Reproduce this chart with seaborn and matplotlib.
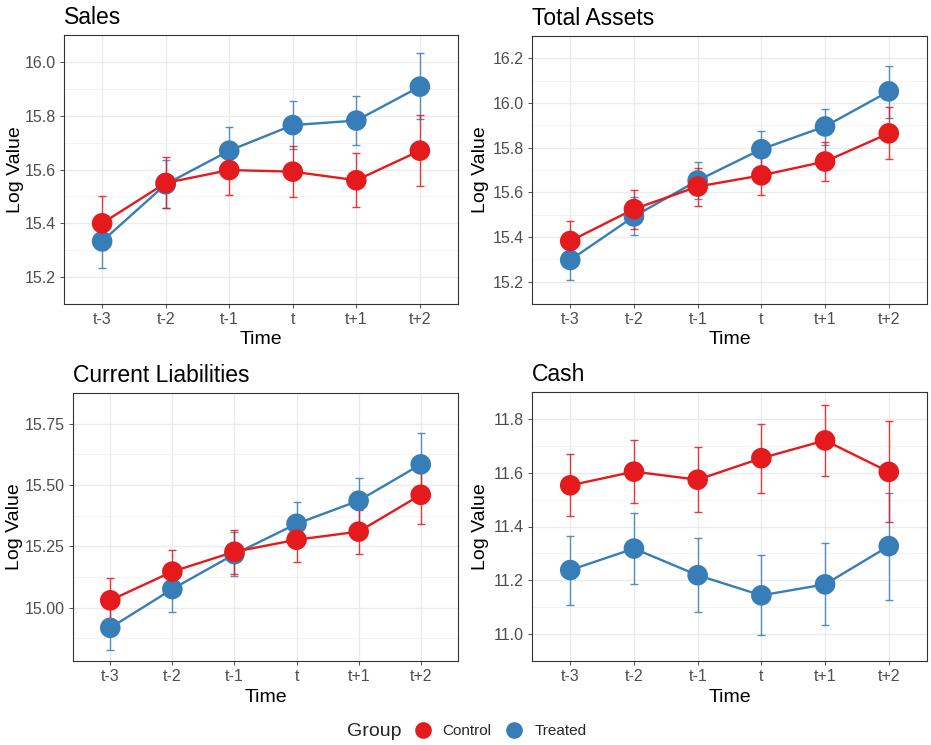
import numpy as np
import pandas as pd
import matplotlib
matplotlib.use("Agg")
import matplotlib.pyplot as plt
from matplotlib.lines import Line2D
import seaborn as sns

times = ["t-3", "t-2", "t-1", "t", "t+1", "t+2"]
groups = ["Control", "Treated"]
colors = {"Control": "#E41A1C", "Treated": "#377EB8"}

# Sales
sales_ctrl = [15.400, 15.550, 15.598, 15.592, 15.560, 15.670]
sales_ctrl_lo = [15.300, 15.457, 15.505, 15.498, 15.460, 15.538]
sales_ctrl_hi = [15.500, 15.645, 15.690, 15.688, 15.660, 15.802]
sales_trt = [15.333, 15.545, 15.670, 15.765, 15.782, 15.908]
sales_trt_lo = [15.235, 15.457, 15.585, 15.675, 15.690, 15.787]
sales_trt_hi = [15.430, 15.635, 15.757, 15.853, 15.873, 16.032]

# Total Assets
ta_ctrl = [15.382, 15.525, 15.626, 15.676, 15.738, 15.864]
ta_ctrl_lo = [15.290, 15.437, 15.541, 15.590, 15.650, 15.748]
ta_ctrl_hi = [15.473, 15.612, 15.711, 15.762, 15.826, 15.980]
ta_trt = [15.297, 15.492, 15.653, 15.793, 15.895, 16.052]
ta_trt_lo = [15.207, 15.408, 15.571, 15.710, 15.812, 15.935]
ta_trt_hi = [15.387, 15.578, 15.734, 15.875, 15.975, 16.167]

# Current Liabilities
cl_ctrl = [15.030, 15.147, 15.228, 15.277, 15.310, 15.460]
cl_ctrl_lo = [14.937, 15.057, 15.139, 15.185, 15.220, 15.340]
cl_ctrl_hi = [15.123, 15.237, 15.317, 15.369, 15.400, 15.580]
cl_trt = [14.918, 15.076, 15.218, 15.342, 15.436, 15.584]
cl_trt_lo = [14.827, 14.984, 15.130, 15.250, 15.346, 15.455]
cl_trt_hi = [15.010, 15.168, 15.310, 15.432, 15.527, 15.713]

# Cash
cash_ctrl = [11.553, 11.604, 11.574, 11.654, 11.720, 11.603]
cash_ctrl_lo = [11.438, 11.488, 11.453, 11.524, 11.589, 11.415]
cash_ctrl_hi = [11.668, 11.720, 11.695, 11.782, 11.852, 11.792]
cash_trt = [11.238, 11.318, 11.219, 11.144, 11.185, 11.327]
cash_trt_lo = [11.110, 11.187, 11.082, 10.996, 11.034, 11.127]
cash_trt_hi = [11.366, 11.449, 11.356, 11.293, 11.337, 11.526]

panels = [
    ("Sales", (sales_ctrl, sales_ctrl_lo, sales_ctrl_hi), (sales_trt, sales_trt_lo, sales_trt_hi),
     [15.2, 15.4, 15.6, 15.8, 16.0], "{:.1f}"),
    ("Total Assets", (ta_ctrl, ta_ctrl_lo, ta_ctrl_hi), (ta_trt, ta_trt_lo, ta_trt_hi),
     [15.2, 15.4, 15.6, 15.8, 16.0, 16.2], "{:.1f}"),
    ("Current Liabilities", (cl_ctrl, cl_ctrl_lo, cl_ctrl_hi), (cl_trt, cl_trt_lo, cl_trt_hi),
     [15.00, 15.25, 15.50, 15.75], "{:.2f}"),
    ("Cash", (cash_ctrl, cash_ctrl_lo, cash_ctrl_hi), (cash_trt, cash_trt_lo, cash_trt_hi),
     [11.0, 11.2, 11.4, 11.6, 11.8], "{:.1f}"),
]

sns.set_theme(style="white")
plt.rcParams["font.family"] = ["Liberation Sans", "DejaVu Sans"]

fig = plt.figure(figsize=(9.31, 7.45), dpi=100)
W, H = 931, 745
rects_px = [(64, 35, 458, 304), (532, 36, 927, 304), (73, 393, 458, 661), (532, 392, 927, 661)]
ylabel_right_px = [24, 489, 23, 489]

for (title, ctrl, trt, yticks, fmt), (l, t, r, b), ylr in zip(panels, rects_px, ylabel_right_px):
    ax = fig.add_axes([l / W, 1 - b / H, (r - l) / W, (b - t) / H])
    rows = []
    # Treated rows first so Control points are drawn on top
    for g, (m, lo, hi) in (("Treated", trt), ("Control", ctrl)):
        for i, tm in enumerate(times):
            rows.append({"pos": i + 1, "Time": tm, "Group": g, "mean": m[i], "lo": lo[i], "hi": hi[i]})
    df = pd.DataFrame(rows)

    sns.lineplot(data=df, x="pos", y="mean", hue="Group", hue_order=["Treated", "Control"],
                 palette=colors, linewidth=1.7, legend=False, ax=ax, zorder=2, sort=True)
    for g in ["Treated", "Control"]:
        d = df[df["Group"] == g]
        ax.errorbar(d["pos"], d["mean"], yerr=[d["mean"] - d["lo"], d["hi"] - d["mean"]],
                    fmt="none", ecolor=colors[g], elinewidth=1.0, capsize=2.6, capthick=1.0,
                    alpha=0.85, zorder=3)
    sns.scatterplot(data=df, x="pos", y="mean", hue="Group", hue_order=["Treated", "Control"],
                    palette=colors, s=220, linewidth=0, legend=False, ax=ax, zorder=4)

    lo_all = min(min(ctrl[1]), min(trt[1]))
    hi_all = max(max(ctrl[2]), max(trt[2]))
    span = hi_all - lo_all
    ax.set_ylim(lo_all - 0.05 * span, hi_all + 0.05 * span)
    ax.set_xlim(0.4, 6.6)
    ax.set_xticks(range(1, 7))
    ax.set_xticklabels(times)
    ax.set_yticks(yticks)
    ax.set_yticklabels([fmt.format(v) for v in yticks])
    minors = [(a + c) / 2 for a, c in zip(yticks[:-1], yticks[1:])]
    step = yticks[1] - yticks[0]
    minors = [yticks[0] - step / 2] + minors + [yticks[-1] + step / 2]
    ax.set_yticks(minors, minor=True)
    ax.grid(True, which="major", color="#EBEBEB", linewidth=1.0)
    ax.grid(True, which="minor", axis="y", color="#F2F2F2", linewidth=0.6)
    ax.set_axisbelow(True)
    ax.tick_params(axis="both", which="major", direction="out", length=3, width=0.6,
                   color="#333333", labelcolor="#4D4D4D", labelsize=11.5, pad=3,
                   bottom=True, left=True)
    ax.tick_params(axis="y", which="minor", length=0)
    for s in ax.spines.values():
        s.set_color("#333333")
        s.set_linewidth(0.8)
    ax.set_title(title, loc="left", fontsize=16.5, pad=8, color="black")
    ax.set_xlabel("Time", fontsize=14, labelpad=3, color="black")
    ax.set_ylabel("Log Value", fontsize=14, color="black")
    ax.yaxis.set_label_coords((ylr - l) / (r - l), 0.5)

fig.text(347 / W, 1 - 731 / H, "Group", fontsize=14, va="center", ha="left")
handles = [Line2D([], [], marker="o", linestyle="none", markersize=12, markeredgewidth=0,
                  color=colors[g]) for g in groups]
fig.legend(handles, groups, loc="center", bbox_to_anchor=(500 / W, 1 - 731 / H), ncol=2,
           frameon=False, fontsize=11, handletextpad=0.7, columnspacing=0.9,
           handlelength=1.2)

fig.savefig("out.png", dpi=100)
